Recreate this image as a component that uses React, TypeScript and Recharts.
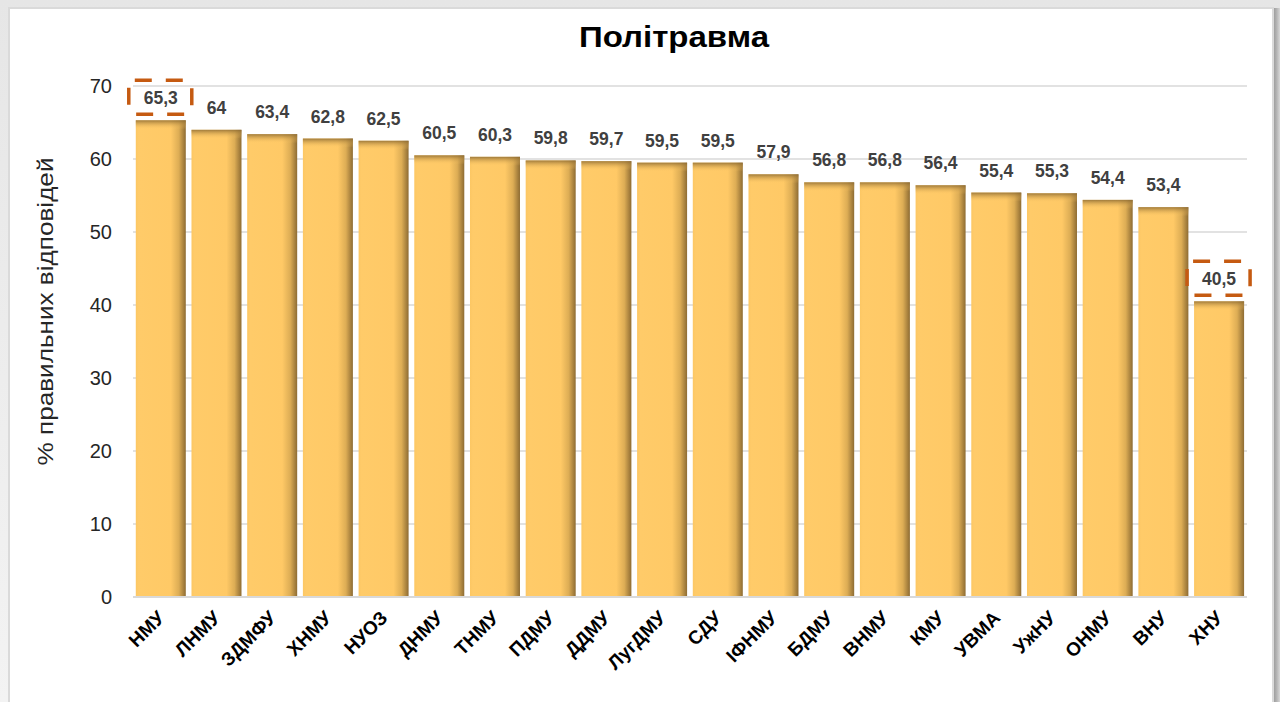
import React from 'react'
import { BarChart, Bar, XAxis, YAxis, CartesianGrid, LabelList } from 'recharts'

const universities = [
    'НМУ', 'ЛНМУ', 'ЗДМФУ', 'ХНМУ', 'НУОЗ', 'ДНМУ', 'ТНМУ', 'ПДМУ', 'ДДМУ', 'ЛугДМУ',
    'СДУ', 'ІФНМУ', 'БДМУ', 'ВНМУ', 'КМУ', 'УВМА', 'УжНУ', 'ОНМУ', 'ВНУ', 'ХНУ'
]
const correctShare = [
    65.3, 64, 63.4, 62.8, 62.5, 60.5, 60.3, 59.8, 59.7, 59.5,
    59.5, 57.9, 56.8, 56.8, 56.4, 55.4, 55.3, 54.4, 53.4, 40.5
]
const yTicks = [0, 10, 20, 30, 40, 50, 60, 70]
const highlighted = ['НМУ', 'ХНУ']

const chartTitle = 'Політравма'
const yTitle = '% правильних відповідей'

const FONT = '"Liberation Sans", Arial, sans-serif'
const ORANGE = '#C55A11'

const data = universities.map((name, i) => ({ name, value: correctShare[i] }))

const fmt = (v: number) => String(v).replace('.', ',')

const GoldBar = (props: any) => {
    const { x, y, width, height } = props
    if (!height || height <= 0) return null
    return (
        <g>
            <rect x={x} y={y} width={width} height={height} fill="url(#barSide)" />
            <rect x={x} y={y} width={width} height={Math.min(9, height)} fill="url(#barTop)" />
        </g>
    )
}

const ValueLabel = (props: any) => {
    const { x, y, width, value, index } = props
    const cx = x + width / 2
    const boxed = highlighted.includes(universities[index])
    return (
        <g>
            {boxed && (
                <rect
                    x={cx - 32}
                    y={y - 40}
                    width={63}
                    height={34}
                    rx={6}
                    fill="none"
                    stroke={ORANGE}
                    strokeWidth={3.5}
                    strokeDasharray="17 14"
                />
            )}
            <text
                x={cx}
                y={y - 16}
                textAnchor="middle"
                fontFamily={FONT}
                fontWeight="bold"
                fontSize={17.5}
                fill="#404040"
            >
                {fmt(value)}
            </text>
        </g>
    )
}

const NameTick = (props: any) => {
    const { x, y, payload } = props
    const ax = x + 5
    const ay = y + 14
    return (
        <text
            x={ax}
            y={ay}
            transform={`rotate(-45, ${ax}, ${ay})`}
            textAnchor="end"
            fontFamily={FONT}
            fontWeight="bold"
            fontSize={19}
            fill="#000"
        >
            {payload.value}
        </text>
    )
}

const YTitle = (props: any) => {
    const { viewBox } = props
    const cx = viewBox.x - 28
    const cy = viewBox.y + viewBox.height / 2 - 30
    return (
        <text
            x={cx}
            y={cy}
            transform={`rotate(-90, ${cx}, ${cy})`}
            textAnchor="middle"
            dominantBaseline="central"
            fontFamily={FONT}
            fontSize={22}
            fill="#262626"
            textLength={308}
            lengthAdjust="spacingAndGlyphs"
        >
            {yTitle}
        </text>
    )
}

export default function App() {
    return (
        <div
            style={{
                position: 'fixed',
                left: 0,
                top: 0,
                width: 1280,
                height: 702,
                overflow: 'hidden',
                background: 'linear-gradient(180deg, #e6e6e6 0%, #f3f3f3 100%)',
                fontFamily: FONT
            }}
        >
            <div
                style={{
                    position: 'absolute',
                    left: 1272,
                    top: 8,
                    width: 8,
                    height: 702,
                    background: 'linear-gradient(90deg, #8f8f8f 0%, #b5b5b5 60%, #d8d8d8 100%)'
                }}
            />
            <div
                style={{
                    position: 'absolute',
                    left: 8,
                    top: 7,
                    width: 1262,
                    height: 720,
                    background: '#fff',
                    border: '2px solid #dadada'
                }}
            />
            <div style={{ position: 'absolute', left: 0, top: 0 }}>
                <BarChart
                    width={1280}
                    height={702}
                    data={data}
                    margin={{ top: 86, right: 33, bottom: 0, left: 73 }}
                    barCategoryGap="5%"
                >
                    <defs>
                        <linearGradient id="barSide" x1="0" y1="0" x2="1" y2="0">
                            <stop offset="0%" stopColor="#FCC764" />
                            <stop offset="6%" stopColor="#FFCB69" />
                            <stop offset="70%" stopColor="#FFC966" />
                            <stop offset="86%" stopColor="#DDAD55" />
                            <stop offset="100%" stopColor="#8E6C33" />
                        </linearGradient>
                        <linearGradient id="barTop" x1="0" y1="0" x2="0" y2="1">
                            <stop offset="0%" stopColor="#8E6C33" stopOpacity={0.85} />
                            <stop offset="100%" stopColor="#FFC966" stopOpacity={0} />
                        </linearGradient>
                    </defs>
                    <text
                        x={674}
                        y={47}
                        textAnchor="middle"
                        fontFamily={FONT}
                        fontWeight="bold"
                        fontSize={30}
                        fill="#000"
                        textLength={190}
                        lengthAdjust="spacingAndGlyphs"
                    >
                        {chartTitle}
                    </text>
                    <CartesianGrid vertical={false} stroke="#d9d9d9" strokeWidth={1.5} />
                    <XAxis
                        dataKey="name"
                        interval={0}
                        tickLine={false}
                        axisLine={{ stroke: '#d9d9d9', strokeWidth: 2 }}
                        tick={<NameTick />}
                        height={105}
                    />
                    <YAxis
                        domain={[0, 70]}
                        ticks={yTicks}
                        axisLine={false}
                        tickLine={false}
                        tickSize={0}
                        tickMargin={21}
                        width={60}
                        tick={{ fontSize: 20, fill: '#262626', fontFamily: FONT }}
                        label={<YTitle />}
                    />
                    <Bar dataKey="value" shape={<GoldBar />} isAnimationActive={false}>
                        <LabelList dataKey="value" content={<ValueLabel />} />
                    </Bar>
                </BarChart>
            </div>
        </div>
    )
}
